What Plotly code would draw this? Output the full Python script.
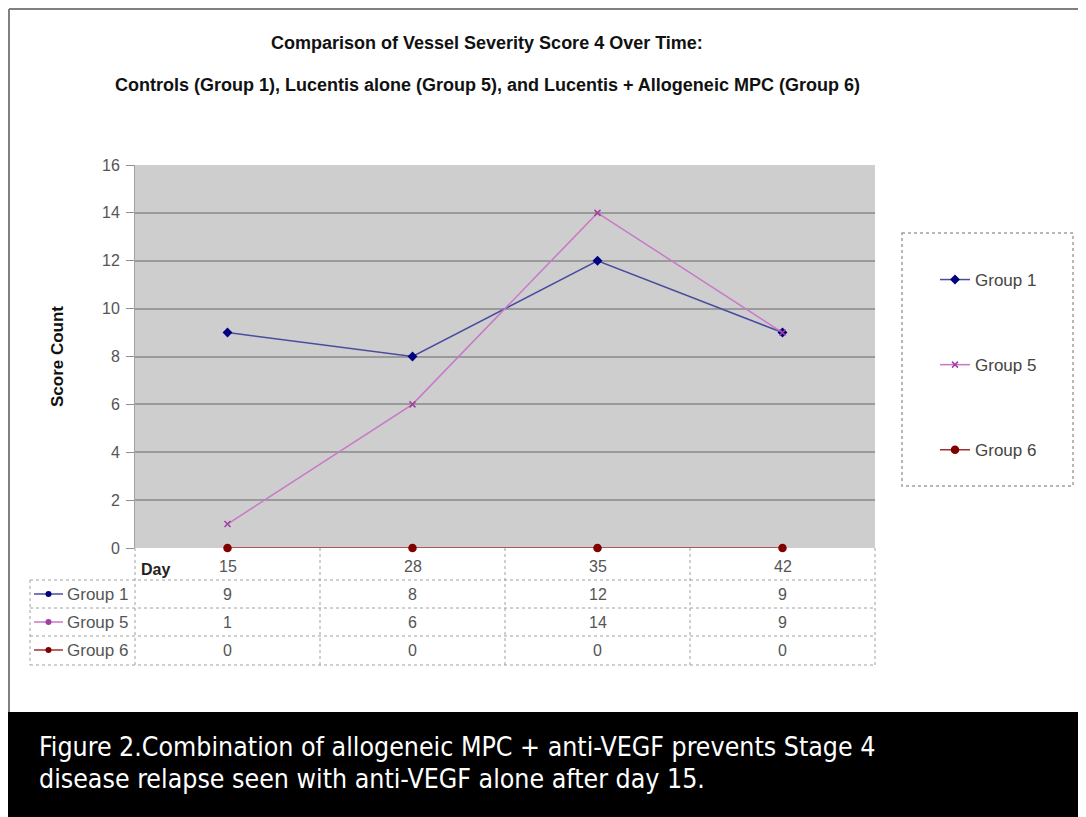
import plotly.graph_objects as go

# ---------------- data ----------------
days = ["15", "28", "35", "42"]
group1 = [9, 8, 12, 9]
group5 = [1, 6, 14, 9]
group6 = [0, 0, 0, 0]
series_names = ["Group 1", "Group 5", "Group 6"]
y_ticks = [0, 2, 4, 6, 8, 10, 12, 14, 16]

title_line1 = "Comparison of Vessel Severity Score 4 Over Time:"
title_line2 = "Controls (Group 1), Lucentis alone (Group 5), and Lucentis + Allogeneic MPC (Group 6)"
caption_lines = [
    "Figure 2.Combination of allogeneic MPC + anti-VEGF prevents Stage 4",
    "disease relapse seen with anti-VEGF alone after day 15.",
]
table_header = "Day"
y_title = "Score Count"

# ---------------- geometry / styles ----------------
PAGE_W, PAGE_H = 1086, 817
OFF = 8  # page body margin
W, H = PAGE_W - OFF, PAGE_H - OFF
L, R, T, B = 135, 875, 165, 548  # plot area in page pixels


def px(x):
    return (x - L) / (R - L)


def py(y):
    return (B - y) / (B - T)


FONT = "Arial, Liberation Sans, sans-serif"
line_colors = ["#4b4ba0", "#c878c8", "#a03030"]
marker_colors = ["#000080", "#a040a0", "#800000"]
marker_symbols = ["diamond", "x-thin-open", "circle"]
marker_sizes = [6, 6, 7]
series_values = [group1, group5, group6]

fig = go.Figure()
for i, (name, vals) in enumerate(zip(series_names, series_values)):
    fig.add_trace(go.Scatter(
        x=days, y=vals, name=name, mode="lines+markers",
        legendgroup=name,
        line=dict(color=line_colors[i], width=1.5),
        marker=dict(color=marker_colors[i], symbol=marker_symbols[i], size=marker_sizes[i],
                    line=dict(color=marker_colors[i], width=1.5)),
        cliponaxis=False,
    ))

shapes = []
annotations = []
grid_line = dict(color="#a0a0a0", width=1, dash="dot")

# outer frame
shapes.append(dict(type="line", xref="paper", yref="paper", x0=px(9), x1=px(PAGE_W), y0=py(9), y1=py(9),
                   line=dict(color="#808080", width=2), layer="above"))
shapes.append(dict(type="line", xref="paper", yref="paper", x0=px(9), x1=px(9), y0=py(9), y1=py(712),
                   line=dict(color="#808080", width=2), layer="above"))
# black caption band
shapes.append(dict(type="rect", xref="paper", yref="paper", x0=px(8), x1=px(PAGE_W), y0=py(712), y1=py(PAGE_H),
                   fillcolor="black", line=dict(width=0), layer="above"))

# data table
row_edges = [580, 608, 636, 665]
row_centers = [594, 622, 650]
for ry in row_edges:
    shapes.append(dict(type="line", xref="paper", yref="paper", x0=px(30), x1=px(875), y0=py(ry), y1=py(ry),
                       line=grid_line, layer="above"))
shapes.append(dict(type="line", xref="paper", yref="paper", x0=px(30), x1=px(30), y0=py(580), y1=py(665),
                   line=grid_line, layer="above"))
for xx in [0, 1]:
    shapes.append(dict(type="line", xref="paper", yref="paper", x0=xx, x1=xx, y0=0, y1=py(665),
                       line=grid_line, layer="above"))
for k in range(len(days) - 1):
    shapes.append(dict(type="line", xref="x", yref="paper", x0=k + 0.5, x1=k + 0.5, y0=0, y1=py(665),
                       line=grid_line, layer="above"))

annotations.append(dict(xref="paper", yref="paper", x=px(155), y=py(569), text="<b>" + table_header + "</b>",
                        showarrow=False, xanchor="center", yanchor="middle",
                        font=dict(family=FONT, size=16, color="#222")))
for k, d in enumerate(days):
    annotations.append(dict(xref="x", yref="paper", x=k, y=py(566), text=d, showarrow=False,
                            xanchor="center", yanchor="middle", font=dict(family=FONT, size=16, color="#555")))
for i, (name, vals) in enumerate(zip(series_names, series_values)):
    cy = row_centers[i]
    shapes.append(dict(type="line", xref="paper", yref="paper", x0=px(34), x1=px(63), y0=py(cy), y1=py(cy),
                       line=dict(color=line_colors[i], width=1.5), layer="above"))
    shapes.append(dict(type="circle", xref="paper", yref="paper", x0=px(45.5), x1=px(51.5),
                       y0=py(cy + 3), y1=py(cy - 3), fillcolor=marker_colors[i],
                       line=dict(color=marker_colors[i], width=0), layer="above"))
    annotations.append(dict(xref="paper", yref="paper", x=px(65), y=py(cy), text=name, showarrow=False,
                            xanchor="left", yanchor="middle",
                            font=dict(family=FONT, size=17, color="#555")))
    for k, v in enumerate(vals):
        annotations.append(dict(xref="x", yref="paper", x=k, y=py(cy), text=str(v), showarrow=False,
                                xanchor="center", yanchor="middle", font=dict(family=FONT, size=16, color="#555")))

# legend box
shapes.append(dict(type="rect", xref="paper", yref="paper", x0=px(902), x1=px(1073), y0=py(233), y1=py(486),
                   line=dict(color="#a0a0a0", width=1.5, dash="dot"), fillcolor="rgba(0,0,0,0)", layer="above"))

# titles
annotations.append(dict(xref="paper", yref="paper", x=px(487), y=py(43), text="<b>" + title_line1 + "</b>",
                        showarrow=False, xanchor="center", yanchor="middle",
                        font=dict(family=FONT, size=18, color="#111")))
annotations.append(dict(xref="paper", yref="paper", x=px(487), y=py(85), text="<b>" + title_line2 + "</b>",
                        showarrow=False, xanchor="center", yanchor="middle",
                        font=dict(family=FONT, size=18, color="#111")))
# caption
cap_font = dict(family="Liberation Sans Narrow, DejaVu Sans Condensed, Arial", size=26.5, color="white")
annotations.append(dict(xref="paper", yref="paper", x=px(37), y=py(746), text=caption_lines[0],
                        showarrow=False, xanchor="left", yanchor="middle", font=cap_font))
annotations.append(dict(xref="paper", yref="paper", x=px(37), y=py(778), text=caption_lines[1],
                        showarrow=False, xanchor="left", yanchor="middle", font=cap_font))

fig.update_layout(
    width=W, height=H, autosize=False,
    margin=dict(l=L - OFF, r=PAGE_W - R, t=T - OFF, b=PAGE_H - B, pad=0),
    paper_bgcolor="white",
    plot_bgcolor="#cecece",
    showlegend=True,
    legend=dict(x=px(935), y=py(262), xanchor="left", yanchor="top", bgcolor="rgba(0,0,0,0)",
                tracegroupgap=60, itemwidth=30,
                font=dict(family=FONT, size=17, color="#444")),
    xaxis=dict(type="category", range=[-0.5, len(days) - 0.5], showticklabels=False, showgrid=False,
               zeroline=False, showline=False, ticks=""),
    yaxis=dict(range=[0, 16], tickvals=y_ticks, showgrid=True, gridcolor="#9a9a9a", gridwidth=2,
               zeroline=False, showline=True, linecolor="#a0a0a0", linewidth=1,
               ticks="outside", ticklen=8, tickcolor="#909090", ticklabelstandoff=3,
               tickfont=dict(family=FONT, size=16, color="#555"),
               title=dict(text="<b>" + y_title + "</b>", standoff=34,
                          font=dict(family=FONT, size=17, color="#111"))),
    shapes=shapes,
    annotations=annotations,
)

fig.write_html("out.html")
